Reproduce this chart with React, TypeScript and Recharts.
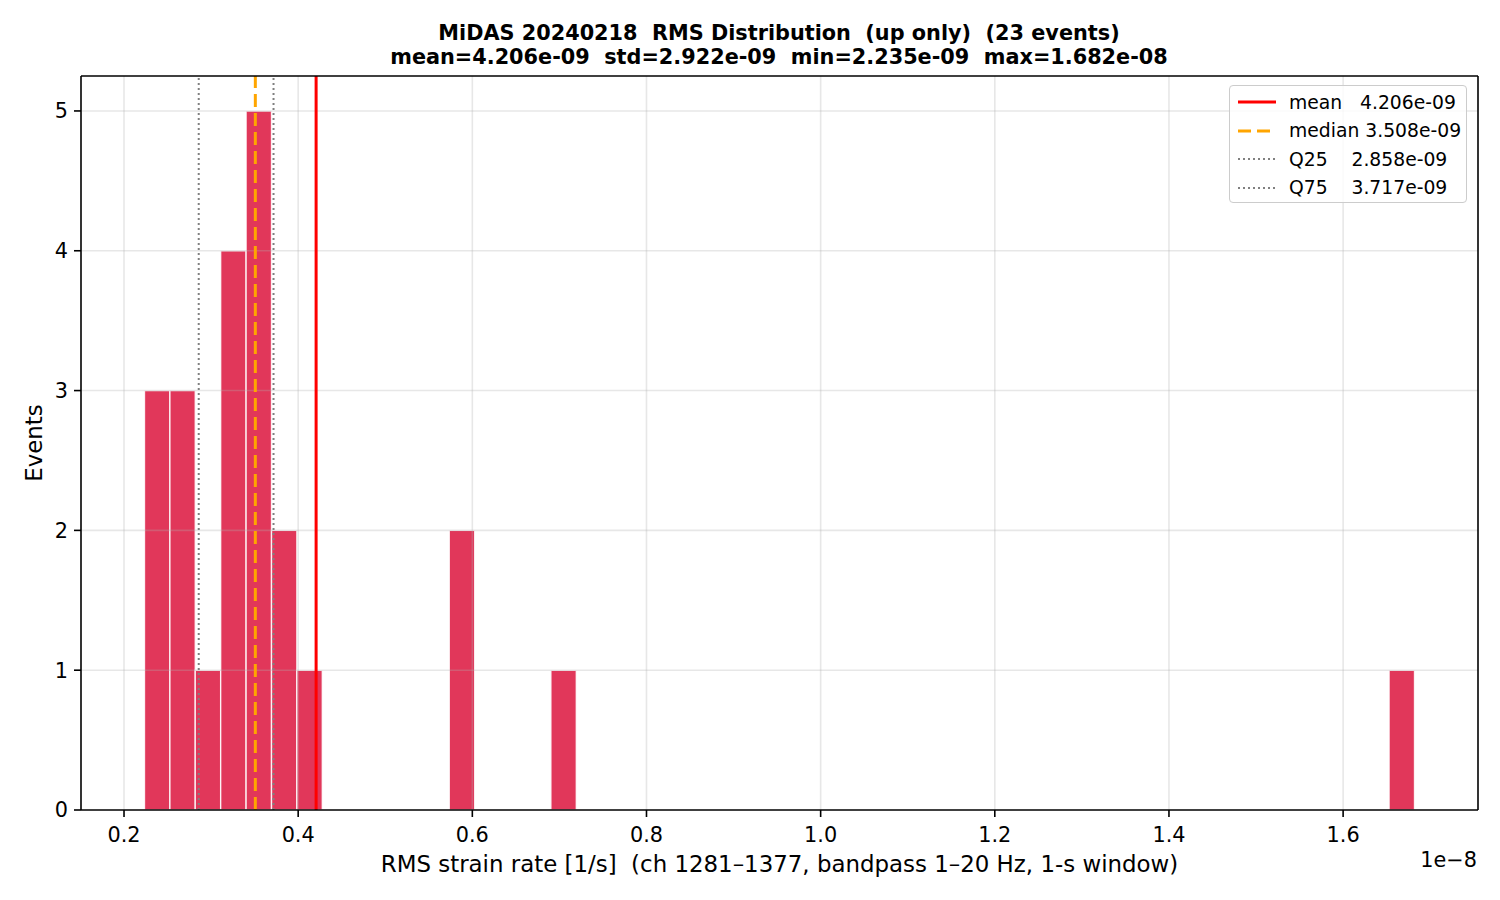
import {
  ComposedChart,
  Line,
  XAxis,
  YAxis,
  ReferenceArea,
  ReferenceLine,
} from 'recharts'

// histogram bins (units of 1e-8 1/s), only non-empty bins
const binLeft = [0.2235, 0.2527, 0.2818, 0.3110, 0.3402, 0.3694, 0.3985, 0.5735, 0.6902, 1.6528]
const binRight = [0.2527, 0.2818, 0.3110, 0.3402, 0.3694, 0.3985, 0.4277, 0.6027, 0.7194, 1.6820]
const binCount = [3, 3, 1, 4, 5, 2, 1, 2, 1, 1]

const xDomain = [0.1506, 1.7549]
const yDomain = [0, 5.25]
const xTicks = [0.2, 0.4, 0.6, 0.8, 1.0, 1.2, 1.4, 1.6]
const yTicks = [0, 1, 2, 3, 4, 5]

const statNames = ['mean', 'median', 'Q25', 'Q75']
const statValues = [0.4206, 0.3508, 0.2858, 0.3717]
const statLabels = ['mean   4.206e-09', 'median 3.508e-09', 'Q25    2.858e-09', 'Q75    3.717e-09']

const titleLines = [
  'MiDAS 20240218  RMS Distribution  (up only)  (23 events)',
  'mean=4.206e-09  std=2.922e-09  min=2.235e-09  max=1.682e-08',
]
const xLabel = 'RMS strain rate [1/s]  (ch 1281–1377, bandpass 1–20 Hz, 1-s window)'

const FONT = '"DejaVu Sans", sans-serif'
const BAR_COLOR = '#e1375a'

const statStyle: Record<string, { stroke: string; width: number; dash?: string }> = {
  mean: { stroke: '#ff0000', width: 3 },
  median: { stroke: '#ffa500', width: 3, dash: '13 6' },
  Q25: { stroke: '#808080', width: 2, dash: '2 3' },
  Q75: { stroke: '#808080', width: 2, dash: '2 3' },
}

const data = binLeft.map((l, i) => ({ x: (l + binRight[i]) / 2, count: binCount[i] }))

function StatLegend() {
  return (
    <div
      style={{
        position: 'absolute',
        left: 1229,
        top: 85,
        width: 236,
        height: 116,
        border: '1px solid #cccccc',
        borderRadius: 4,
        background: 'rgba(255,255,255,0.8)',
        fontFamily: FONT,
        fontSize: 18.75,
        color: '#000',
      }}
    >
      {statNames.map((name, i) => {
        const s = statStyle[name]
        return (
          <div
            key={name}
            style={{ position: 'absolute', left: 0, top: 4 + i * 28.5, height: 24, display: 'flex', alignItems: 'center' }}
          >
            <svg width={50} height={24} style={{ marginLeft: 7 }}>
              <line x1={1} x2={39} y1={12} y2={12} stroke={s.stroke} strokeWidth={s.width} strokeDasharray={s.dash} />
            </svg>
            <span style={{ whiteSpace: 'pre', marginLeft: 2 }}>{statLabels[i]}</span>
          </div>
        )
      })}
    </div>
  )
}

export default function App() {
  return (
    <div style={{ position: 'absolute', left: 0, top: 0, width: 1500, height: 900, background: '#fff', fontFamily: FONT }}>
      <div
        style={{
          position: 'absolute',
          left: 0,
          width: 1558,
          top: 21,
          textAlign: 'center',
          fontWeight: 'bold',
          fontSize: 20.8,
          lineHeight: '24px',
          color: '#000',
        }}
      >
        {titleLines.map((t) => (
          <div key={t} style={{ whiteSpace: 'pre' }}>{t}</div>
        ))}
      </div>

      <ComposedChart
        width={1500}
        height={900}
        data={data}
        margin={{ top: 76, right: 22, bottom: 0, left: 0 }}
        style={{ fontFamily: FONT }}
      >
        <XAxis
          dataKey="x"
          type="number"
          domain={xDomain}
          allowDataOverflow
          ticks={xTicks}
          tickFormatter={(v: number) => v.toFixed(1)}
          height={90}
          stroke="#000"
          strokeWidth={1.6}
          tickSize={7}
          tickMargin={10}
          tick={{ fill: '#000', fontSize: 20.8 }}
          label={({ viewBox }: any) => (
            <text
              x={viewBox.x + viewBox.width / 2}
              y={872}
              textAnchor="middle"
              fontSize={22.9}
              fill="#000"
              style={{ whiteSpace: 'pre' }}
            >
              {xLabel}
            </text>
          )}
        />
        <YAxis
          type="number"
          domain={yDomain}
          allowDataOverflow
          ticks={yTicks}
          width={81}
          stroke="#000"
          strokeWidth={1.6}
          tickSize={7}
          tickMargin={6}
          tick={{ fill: '#000', fontSize: 20.8 }}
          label={({ viewBox }: any) => (
            <text
              x={42}
              y={viewBox.y + viewBox.height / 2}
              transform={`rotate(-90, 42, ${viewBox.y + viewBox.height / 2})`}
              textAnchor="middle"
              fontSize={22.9}
              fill="#000"
            >
              Events
            </text>
          )}
        />

        {binLeft.map((l, i) => (
          <ReferenceArea
            key={'bin' + i}
            x1={l}
            x2={binRight[i]}
            y1={0}
            y2={binCount[i]}
            fill={BAR_COLOR}
            fillOpacity={1}
            stroke="#ffffff"
            strokeOpacity={0.85}
            strokeWidth={1.4}
            ifOverflow="visible"
          />
        ))}

        {xTicks.map((t) => (
          <ReferenceLine key={'gx' + t} x={t} stroke="#b0b0b0" strokeOpacity={0.3} strokeWidth={1.6} />
        ))}
        {yTicks.slice(1).map((t) => (
          <ReferenceLine key={'gy' + t} y={t} stroke="#b0b0b0" strokeOpacity={0.3} strokeWidth={1.6} />
        ))}

        {statNames.map((name, i) => (
          <ReferenceLine
            key={name}
            x={statValues[i]}
            stroke={statStyle[name].stroke}
            strokeWidth={statStyle[name].width}
            strokeDasharray={statStyle[name].dash}
          />
        ))}

        {/* axes frame (top and right spines) */}
        <ReferenceLine y={yDomain[1]} stroke="#000" strokeWidth={1.6} ifOverflow="visible" />
        <ReferenceLine x={xDomain[1]} stroke="#000" strokeWidth={1.6} ifOverflow="visible" />

        <Line dataKey="count" stroke="none" dot={false} activeDot={false} isAnimationActive={false} legendType="none" />
      </ComposedChart>

      <div style={{ position: 'absolute', right: 23, top: 848, fontSize: 20.8, color: '#000' }}>1e−8</div>

      <StatLegend />
    </div>
  )
}
